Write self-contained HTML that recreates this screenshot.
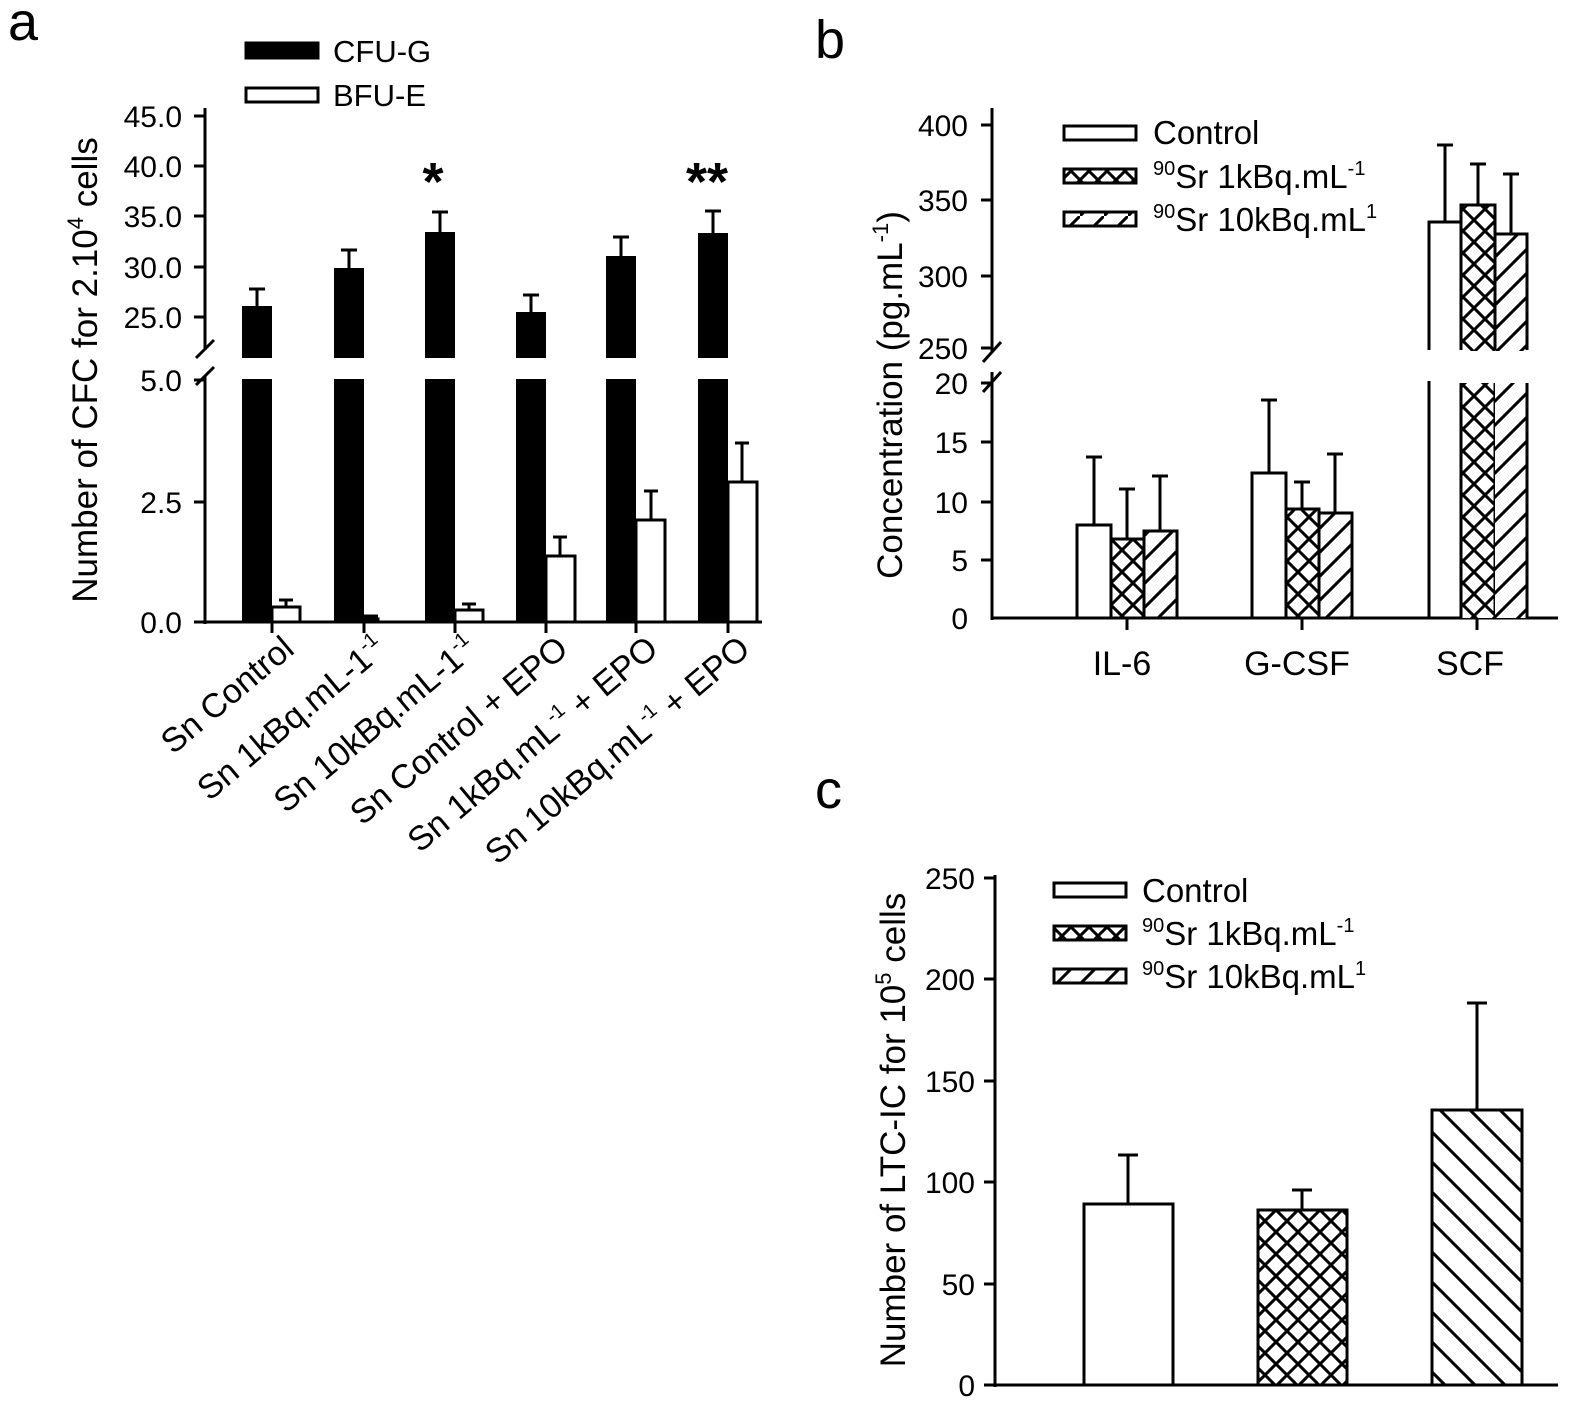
<!DOCTYPE html>
<html><head><meta charset="utf-8"><style>
html,body{margin:0;padding:0;background:#fff}
svg{display:block}
text{font-family:"Liberation Sans",Arial,sans-serif;fill:#000}
</style></head><body>
<svg width="1575" height="1406" viewBox="0 0 1575 1406" xmlns="http://www.w3.org/2000/svg">
<defs>
<pattern id="xh" patternUnits="userSpaceOnUse" width="22" height="22">
<rect width="22" height="22" fill="#fff"/>
<path d="M-2,-2 L24,24 M-2,24 L24,-2" stroke="#000" stroke-width="3"/>
</pattern>
<pattern id="fh" patternUnits="userSpaceOnUse" width="24" height="24">
<rect width="24" height="24" fill="#fff"/>
<path d="M-6,30 L30,-6 M-6,6 L6,-6 M18,30 L30,18" stroke="#000" stroke-width="3"/>
</pattern>
<pattern id="bh" patternUnits="userSpaceOnUse" width="30" height="30">
<rect width="30" height="30" fill="#fff"/>
<path d="M-6,-6 L36,36 M-6,24 L6,36 M24,-6 L36,6" stroke="#000" stroke-width="3"/>
</pattern>
<pattern id="xhs" patternUnits="userSpaceOnUse" width="18" height="18">
<rect width="18" height="18" fill="#fff"/>
<path d="M-2,-2 L20,20 M-2,20 L20,-2" stroke="#000" stroke-width="3"/>
</pattern>
<pattern id="fhs" patternUnits="userSpaceOnUse" width="24" height="24">
<rect width="24" height="24" fill="#fff"/>
<path d="M-4,28 L28,-4" stroke="#000" stroke-width="3"/>
</pattern>
</defs>

<text x="8" y="40" font-size="54">a</text>
<text x="815" y="58" font-size="54">b</text>
<text x="815" y="808" font-size="54">c</text>

<!-- ===== Panel a ===== -->
<g stroke="#000" stroke-width="3" fill="none">
<line x1="205" y1="108" x2="205" y2="350"/>
<line x1="205" y1="376" x2="205" y2="624"/>
<line x1="205" y1="622" x2="762" y2="622"/>
<line x1="194" y1="116" x2="205" y2="116"/>
<line x1="194" y1="166" x2="205" y2="166"/>
<line x1="194" y1="216" x2="205" y2="216"/>
<line x1="194" y1="267" x2="205" y2="267"/>
<line x1="194" y1="317" x2="205" y2="317"/>
<line x1="194" y1="380" x2="205" y2="380"/>
<line x1="194" y1="502" x2="205" y2="502"/>
<line x1="194" y1="622" x2="205" y2="622"/>
<line x1="196" y1="358" x2="214" y2="340"/>
<line x1="196" y1="385" x2="214" y2="367"/>
</g>
<g font-size="30" text-anchor="end">
<text x="182" y="127">45.0</text>
<text x="182" y="177">40.0</text>
<text x="182" y="227">35.0</text>
<text x="182" y="278">30.0</text>
<text x="182" y="328">25.0</text>
<text x="182" y="391">5.0</text>
<text x="182" y="513">2.5</text>
<text x="182" y="633">0.0</text>
</g>
<text transform="translate(97,370) rotate(-90)" font-size="35" text-anchor="middle">Number of CFC for 2.10<tspan font-size="22" dy="-14">4</tspan><tspan dy="14"> cells</tspan></text>

<rect x="246" y="43" width="72" height="15" fill="#000" stroke="#000" stroke-width="3"/>
<text x="333" y="62" font-size="31">CFU-G</text>
<rect x="246" y="88" width="72" height="14" fill="#fff" stroke="#000" stroke-width="3"/>
<text x="333" y="106" font-size="31">BFU-E</text>

<g fill="#000">
<rect x="242" y="306" width="30" height="52"/>
<rect x="242" y="379" width="30" height="243"/>
<rect x="334" y="268" width="30" height="90"/>
<rect x="334" y="379" width="30" height="243"/>
<rect x="425" y="232" width="30" height="126"/>
<rect x="425" y="379" width="30" height="243"/>
<rect x="516" y="312" width="30" height="46"/>
<rect x="516" y="379" width="30" height="243"/>
<rect x="606" y="256" width="30" height="102"/>
<rect x="606" y="379" width="30" height="243"/>
<rect x="698" y="233" width="30" height="125"/>
<rect x="698" y="379" width="30" height="243"/>
</g>
<g stroke="#000" stroke-width="3" fill="none">
<line x1="257" y1="306" x2="257" y2="289"/><line x1="249" y1="289" x2="265" y2="289"/>
<line x1="349" y1="268" x2="349" y2="250"/><line x1="341" y1="250" x2="357" y2="250"/>
<line x1="440" y1="232" x2="440" y2="212"/><line x1="432" y1="212" x2="448" y2="212"/>
<line x1="531" y1="312" x2="531" y2="295"/><line x1="523" y1="295" x2="539" y2="295"/>
<line x1="621" y1="256" x2="621" y2="237"/><line x1="613" y1="237" x2="629" y2="237"/>
<line x1="713" y1="233" x2="713" y2="211"/><line x1="705" y1="211" x2="721" y2="211"/>
</g>
<g fill="#fff" stroke="#000" stroke-width="3">
<rect x="272" y="607" width="28" height="15"/>
<rect x="364" y="619" width="14" height="3"/>
<rect x="455" y="610" width="28" height="12"/>
<rect x="546" y="556" width="29" height="66"/>
<rect x="636" y="520" width="29" height="102"/>
<rect x="728" y="482" width="29" height="140"/>
</g>
<g stroke="#000" stroke-width="3">
<line x1="286" y1="607" x2="286" y2="600"/><line x1="279" y1="600" x2="293" y2="600"/>
<line x1="364" y1="616" x2="378" y2="616"/>
<line x1="469" y1="610" x2="469" y2="604"/><line x1="462" y1="604" x2="476" y2="604"/>
<line x1="560" y1="556" x2="560" y2="537"/><line x1="553" y1="537" x2="567" y2="537"/>
<line x1="651" y1="520" x2="651" y2="491"/><line x1="644" y1="491" x2="658" y2="491"/>
<line x1="742" y1="482" x2="742" y2="443"/><line x1="735" y1="443" x2="749" y2="443"/>
<line x1="272" y1="622" x2="272" y2="633"/>
<line x1="364" y1="622" x2="364" y2="633"/>
<line x1="455" y1="622" x2="455" y2="633"/>
<line x1="546" y1="622" x2="546" y2="633"/>
<line x1="636" y1="622" x2="636" y2="633"/>
<line x1="728" y1="622" x2="728" y2="633"/>
</g>
<text x="433" y="200" font-size="54" font-weight="bold" text-anchor="middle">*</text>
<text x="707" y="200" font-size="54" font-weight="bold" text-anchor="middle">**</text>
<g font-size="34" text-anchor="end">
<text transform="translate(296,652) rotate(-40)">Sn Control</text>
<text transform="translate(388,652) rotate(-40)">Sn 1kBq.mL-1<tspan font-size="20" dy="-14">-1</tspan></text>
<text transform="translate(479,652) rotate(-40)">Sn 10kBq.mL-1<tspan font-size="20" dy="-14">-1</tspan></text>
<text transform="translate(570,652) rotate(-40)">Sn Control + EPO</text>
<text transform="translate(660,652) rotate(-40)">Sn 1kBq.mL<tspan font-size="20" dy="-14">-1</tspan><tspan dy="14"> + EPO</tspan></text>
<text transform="translate(752,652) rotate(-40)">Sn 10kBq.mL<tspan font-size="20" dy="-14">-1</tspan><tspan dy="14"> + EPO</tspan></text>
</g>

<!-- ===== Panel b ===== -->
<g stroke="#000" stroke-width="3" fill="none">
<line x1="992" y1="108" x2="992" y2="352"/>
<line x1="992" y1="372" x2="992" y2="620"/>
<line x1="992" y1="618" x2="1558" y2="618"/>
<line x1="981" y1="125" x2="992" y2="125"/>
<line x1="981" y1="200" x2="992" y2="200"/>
<line x1="981" y1="276" x2="992" y2="276"/>
<line x1="981" y1="348" x2="992" y2="348"/>
<line x1="981" y1="383" x2="992" y2="383"/>
<line x1="981" y1="442" x2="992" y2="442"/>
<line x1="981" y1="502" x2="992" y2="502"/>
<line x1="981" y1="560" x2="992" y2="560"/>
<line x1="983" y1="362" x2="1001" y2="342"/>
<line x1="983" y1="392" x2="1001" y2="372"/>
<line x1="1127" y1="618" x2="1127" y2="630"/>
<line x1="1302" y1="618" x2="1302" y2="630"/>
<line x1="1477" y1="618" x2="1477" y2="630"/>
</g>
<g font-size="30" text-anchor="end">
<text x="968" y="136">400</text>
<text x="968" y="211">350</text>
<text x="968" y="287">300</text>
<text x="968" y="359">250</text>
<text x="968" y="394">20</text>
<text x="968" y="453">15</text>
<text x="968" y="513">10</text>
<text x="968" y="571">5</text>
<text x="968" y="629">0</text>
</g>
<text transform="translate(902,395) rotate(-90)" font-size="35" text-anchor="middle">Concentration (pg.mL<tspan font-size="22" dy="-14">-1</tspan><tspan dy="14">)</tspan></text>
<g font-size="34" text-anchor="middle">
<text x="1122" y="675">IL-6</text>
<text x="1297" y="675">G-CSF</text>
<text x="1470" y="675">SCF</text>
</g>
<g stroke="#000" stroke-width="3">
<rect x="1064" y="126" width="72" height="14" fill="#fff"/>
<rect x="1064" y="169" width="72" height="14" fill="url(#xhs)"/>
<rect x="1064" y="212" width="72" height="14" fill="url(#fhs)"/>
</g>
<g font-size="33">
<text x="1153" y="144">Control</text>
<text x="1153" y="188"><tspan font-size="20" dy="-13">90</tspan><tspan dy="13">Sr 1kBq.mL</tspan><tspan font-size="20" dy="-13">-1</tspan></text>
<text x="1153" y="231"><tspan font-size="20" dy="-13">90</tspan><tspan dy="13">Sr 10kBq.mL</tspan><tspan font-size="20" dy="-13">1</tspan></text>
</g>
<g stroke="#000" stroke-width="3">
<rect x="1077" y="525" width="34" height="93" fill="#fff"/>
<rect x="1111" y="539" width="33" height="79" fill="url(#xh)"/>
<rect x="1144" y="531" width="33" height="87" fill="url(#fh)"/>
<rect x="1252" y="473" width="34" height="145" fill="#fff"/>
<rect x="1286" y="509" width="33" height="109" fill="url(#xh)"/>
<rect x="1319" y="513" width="33" height="105" fill="url(#fh)"/>
<path d="M1429,350 V222 H1461 V350 M1429,381 V618" fill="#fff"/>
<rect x="1461" y="205" width="34" height="146" fill="url(#xh)" stroke="none"/>
<path d="M1461,350 V205 H1495 V350" fill="none"/>
<rect x="1461" y="383" width="34" height="235" fill="url(#xh)" stroke="none"/>
<path d="M1461,383 V618 M1495,383 V618" fill="none"/>
<rect x="1495" y="234" width="32" height="117" fill="url(#fh)" stroke="none"/>
<path d="M1495,350 V234 H1527 V350" fill="none"/>
<rect x="1495" y="383" width="32" height="235" fill="url(#fh)" stroke="none"/>
<path d="M1527,383 V618" fill="none"/>
</g>
<g stroke="#000" stroke-width="3">
<line x1="1094" y1="525" x2="1094" y2="457"/><line x1="1086" y1="457" x2="1102" y2="457"/>
<line x1="1127" y1="539" x2="1127" y2="489"/><line x1="1119" y1="489" x2="1135" y2="489"/>
<line x1="1160" y1="531" x2="1160" y2="476"/><line x1="1152" y1="476" x2="1168" y2="476"/>
<line x1="1269" y1="473" x2="1269" y2="400"/><line x1="1261" y1="400" x2="1277" y2="400"/>
<line x1="1302" y1="509" x2="1302" y2="482"/><line x1="1294" y1="482" x2="1310" y2="482"/>
<line x1="1335" y1="513" x2="1335" y2="454"/><line x1="1327" y1="454" x2="1343" y2="454"/>
<line x1="1445" y1="222" x2="1445" y2="145"/><line x1="1437" y1="145" x2="1453" y2="145"/>
<line x1="1478" y1="205" x2="1478" y2="164"/><line x1="1470" y1="164" x2="1486" y2="164"/>
<line x1="1511" y1="234" x2="1511" y2="174"/><line x1="1503" y1="174" x2="1519" y2="174"/>
</g>

<!-- ===== Panel c ===== -->
<g stroke="#000" stroke-width="3" fill="none">
<line x1="995" y1="875" x2="995" y2="1387"/>
<line x1="995" y1="1385" x2="1558" y2="1385"/>
<line x1="984" y1="878" x2="995" y2="878"/>
<line x1="984" y1="979" x2="995" y2="979"/>
<line x1="984" y1="1081" x2="995" y2="1081"/>
<line x1="984" y1="1182" x2="995" y2="1182"/>
<line x1="984" y1="1284" x2="995" y2="1284"/>
<line x1="984" y1="1385" x2="995" y2="1385"/>
</g>
<g font-size="30" text-anchor="end">
<text x="975" y="889">250</text>
<text x="975" y="990">200</text>
<text x="975" y="1092">150</text>
<text x="975" y="1193">100</text>
<text x="975" y="1295">50</text>
<text x="975" y="1396">0</text>
</g>
<text transform="translate(905,1130) rotate(-90)" font-size="35" text-anchor="middle">Number of LTC-IC for 10<tspan font-size="22" dy="-14">5</tspan><tspan dy="14"> cells</tspan></text>
<g stroke="#000" stroke-width="3">
<rect x="1054" y="883" width="72" height="14" fill="#fff"/>
<rect x="1054" y="926" width="72" height="14" fill="url(#xhs)"/>
<rect x="1054" y="969" width="72" height="14" fill="url(#fhs)"/>
</g>
<g font-size="33">
<text x="1142" y="902">Control</text>
<text x="1142" y="945"><tspan font-size="20" dy="-13">90</tspan><tspan dy="13">Sr 1kBq.mL</tspan><tspan font-size="20" dy="-13">-1</tspan></text>
<text x="1142" y="988"><tspan font-size="20" dy="-13">90</tspan><tspan dy="13">Sr 10kBq.mL</tspan><tspan font-size="20" dy="-13">1</tspan></text>
</g>
<g stroke="#000" stroke-width="3">
<rect x="1084" y="1204" width="89" height="181" fill="#fff"/>
<rect x="1258" y="1210" width="89" height="175" fill="url(#xh)"/>
<rect x="1432" y="1110" width="90" height="275" fill="url(#bh)"/>
<line x1="1128" y1="1204" x2="1128" y2="1155"/><line x1="1118" y1="1155" x2="1138" y2="1155"/>
<line x1="1302" y1="1210" x2="1302" y2="1190"/><line x1="1292" y1="1190" x2="1312" y2="1190"/>
<line x1="1477" y1="1110" x2="1477" y2="1003"/><line x1="1467" y1="1003" x2="1487" y2="1003"/>
</g>
</svg>
</body></html>
